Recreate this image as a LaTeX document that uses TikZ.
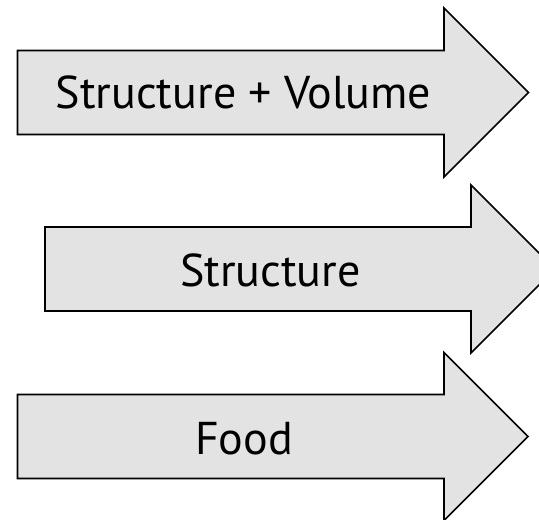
\documentclass[tikz,border=0pt]{standalone}
\usepackage{fontspec}
\setmainfont{PT Sans}
\begin{document}
\begin{tikzpicture}[x=1pt,y=-1pt,
  bigarrow/.style={draw=black,fill=black!11,line width=1.6pt,line join=miter},
  label/.style={font=\fontsize{46}{46}\selectfont,inner sep=0pt,anchor=center}]
\clip (0,0) rectangle (539,520);
\useasboundingbox (0,0) rectangle (539,520);
% arrow shape: left x, right end of shaft, axis y, shaft half-height, head half-height
\newcommand{\blockarrow}[5]{%
  \path[bigarrow] (#1,#3-#4) -- (#2,#3-#4) -- (#2,#3-#5) -- (#2+#5,#3)
    -- (#2,#3+#5) -- (#2,#3+#4) -- (#1,#3+#4) -- cycle;}
\blockarrow{17.5}{444}{92.5}{42}{84.5}
\blockarrow{45}{471}{269}{42}{84}
\blockarrow{17.5}{444}{436.5}{42}{84}
\node[label] (sv) at (243.5,92.5) {Structure + Volume};
\node[label] (st) at (270.5,270) {Structure};
\node[label] (fd) at (244,439) {Food};
\end{tikzpicture}
\end{document}
